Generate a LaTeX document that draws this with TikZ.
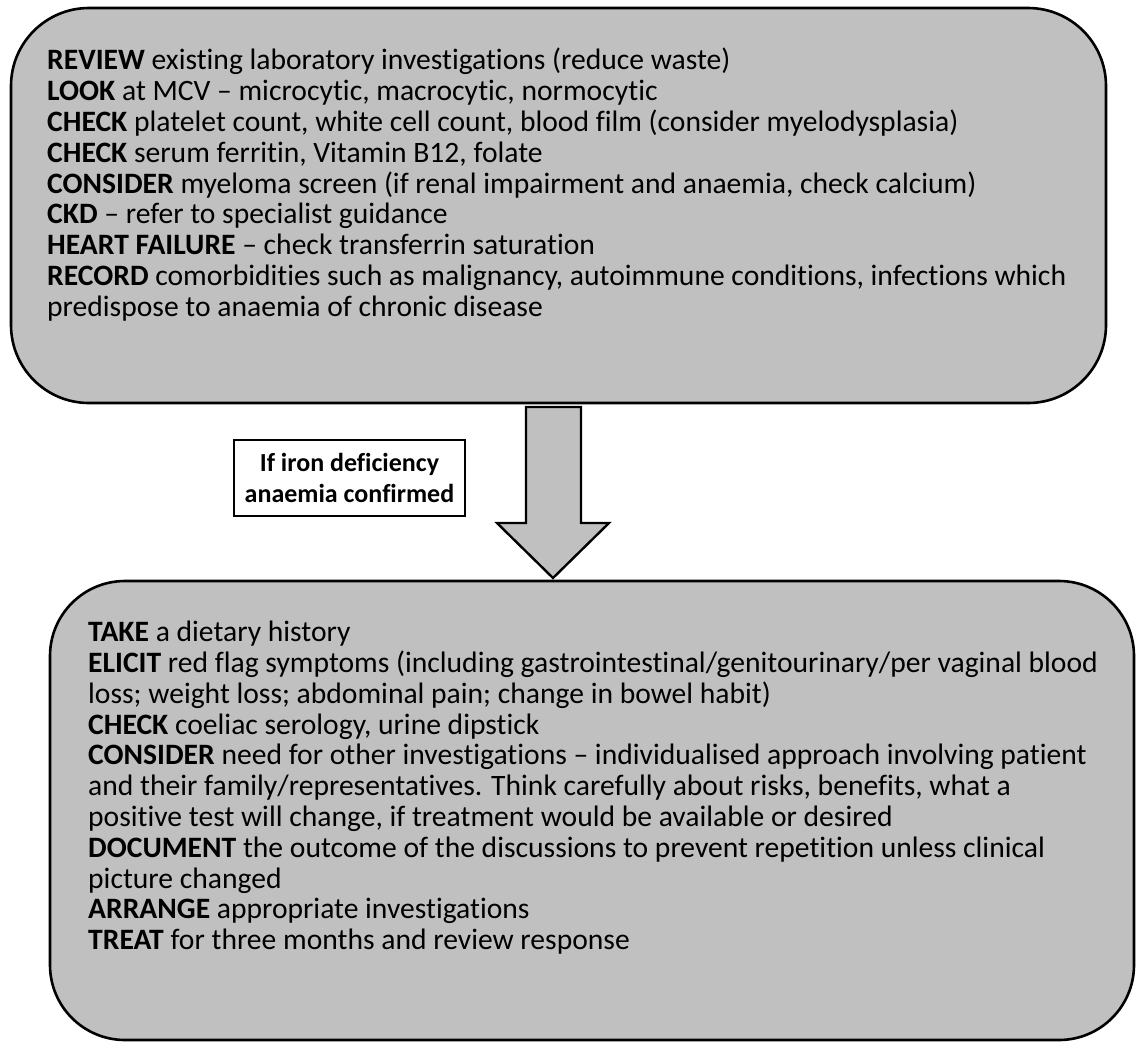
\documentclass[tikz,border=0pt]{standalone}
\usepackage{fontspec}
\setmainfont{Carlito}[Ligatures={NoCommon}]
\definecolor{boxgray}{RGB}{192,192,192}
\begin{document}
\begin{tikzpicture}[x=1pt,y=-1pt,
  bigbox/.style={draw=black,line width=2.6pt,fill=boxgray},
  bodytext/.style={anchor=north west,inner sep=0pt,align=left,font=\fontsize{29.6}{30.8}\selectfont},
  labelbox/.style={draw=black,line width=1.6pt,fill=white,align=center,inner sep=0pt,font=\fontsize{26}{30.4}\selectfont\bfseries}]
\useasboundingbox (0,0) rectangle (1136,1042);
% top box
\draw[bigbox,rounded corners=78pt] (11,8) rectangle (1106,403);
\node[bodytext] (toptext) at (47,48) {%
\textbf{REVIEW} existing laboratory investigations (reduce waste)\\
\textbf{LOOK} at MCV -- microcytic, macrocytic, normocytic\\
\textbf{CHECK} platelet count, white cell count, blood film (consider myelodysplasia)\\
\textbf{CHECK} serum ferritin, Vitamin B12, folate\\
\textbf{CONSIDER} myeloma screen (if renal impairment and anaemia, check calcium)\\
\textbf{CKD} -- refer to specialist guidance\\
\textbf{HEART FAILURE} -- check transferrin saturation\\
\textbf{RECORD} comorbidities such as malignancy, autoimmune conditions, infections which\\
predispose to anaemia of chronic disease};
% arrow
\draw[bigbox,line width=2.4pt,line join=miter] (526,407) -- (581,407) -- (581,523) -- (609,523) -- (553,578) -- (497,523) -- (526,523) -- cycle;
% label
\node[labelbox,minimum width=231pt,minimum height=76pt] (cond) at (349.5,478) {If iron deficiency\\anaemia confirmed};
% bottom box
\draw[bigbox,rounded corners=75pt] (50,581) rectangle (1134,1040);
\node[bodytext] (bottext) at (88,621) {%
\textbf{TAKE} a dietary history\\
\textbf{ELICIT} red flag symptoms (including gastrointestinal/genitourinary/per vaginal blood\\
loss; weight loss; abdominal pain; change in bowel habit)\\
\textbf{CHECK} coeliac serology, urine dipstick\\
\textbf{CONSIDER} need for other investigations -- individualised approach involving patient\\
and their family/representatives. Think carefully about risks, benefits, what a\\
positive test will change, if treatment would be available or desired\\
\textbf{DOCUMENT} the outcome of the discussions to prevent repetition unless clinical\\
picture changed\\
\textbf{ARRANGE} appropriate investigations\\
\textbf{TREAT} for three months and review response};
\end{tikzpicture}
\end{document}
